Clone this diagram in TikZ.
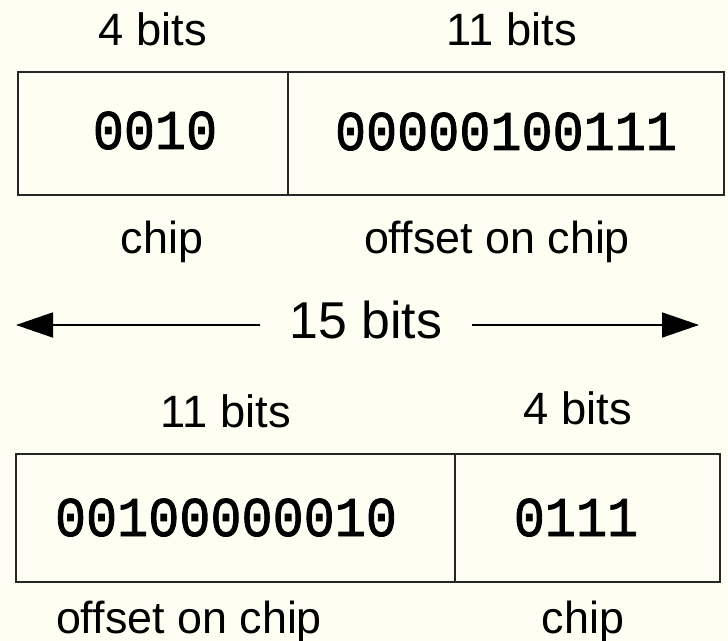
\documentclass[tikz,border=0pt]{standalone}
\usepackage{fontspec}
\usepackage{graphicx}
\setmainfont{Liberation Sans}
\newfontfamily\digitsfont[FakeBold=1.6]{Liberation Mono}
\usetikzlibrary{arrows.meta}
\definecolor{bgcream}{HTML}{FEFEF2}
\newcommand{\digs}[1]{\scalebox{1}[1.08]{#1}}
\tikzset{
  lbl/.style={anchor=base, inner sep=0pt, font=\fontsize{45}{50}\selectfont},
  bits/.style={anchor=base, inner sep=0pt, font=\fontsize{45.5}{50}\selectfont},
  big/.style={anchor=base, inner ysep=0pt, inner xsep=29bp, font=\fontsize{52}{56}\selectfont},
  val/.style={anchor=base, inner sep=0pt, font=\digitsfont\fontsize{52}{56}\selectfont},
  cell/.style={draw=black!85, line width=1.6bp},
  arr/.style={line width=1.6bp, -{Triangle[length=37bp,width=25bp]}}
}
\begin{document}
\begin{tikzpicture}[x=1bp,y=-1bp]
\fill[bgcream] (0,0) rectangle (728,641);
\useasboundingbox (0,0) rectangle (728,641);
% top field
\node[bits] (tb1) at (153,46) {4 bits};
\node[bits] (tb2) at (512,46) {11 bits};
\draw[cell] (18,72) rectangle (724,195);
\draw[cell] (288,72) -- (288,195);
\node[val] (tv1) at (155,149) {\digs{0010}};
\node[val] (tv2) at (506,150) {\digs{00000100111}};
\node[lbl] (tl1) at (162,253) {chip};
\node[lbl] (tl2) at (497,253) {offset on chip};
% middle arrow
\node[big] (fifteen) at (366,338) {15 bits};
\coordinate (L) at (16,325);
\coordinate (R) at (699,325);
\draw[arr] (fifteen.west |- L) -- (L);
\draw[arr] (fifteen.east |- R) -- (R);
% bottom field
\node[bits] (bb1) at (226,427) {11 bits};
\node[bits] (bb2) at (578,424) {4 bits};
\draw[cell] (16,454) rectangle (720,582);
\draw[cell] (455,454) -- (455,582);
\node[val] (bv1) at (226,536) {\digs{00100000010}};
\node[val] (bv2) at (576,536) {\digs{0111}};
\node[lbl] (bl1) at (189,633) {offset on chip};
\node[lbl] (bl2) at (583,633) {chip};
\end{tikzpicture}
\end{document}
